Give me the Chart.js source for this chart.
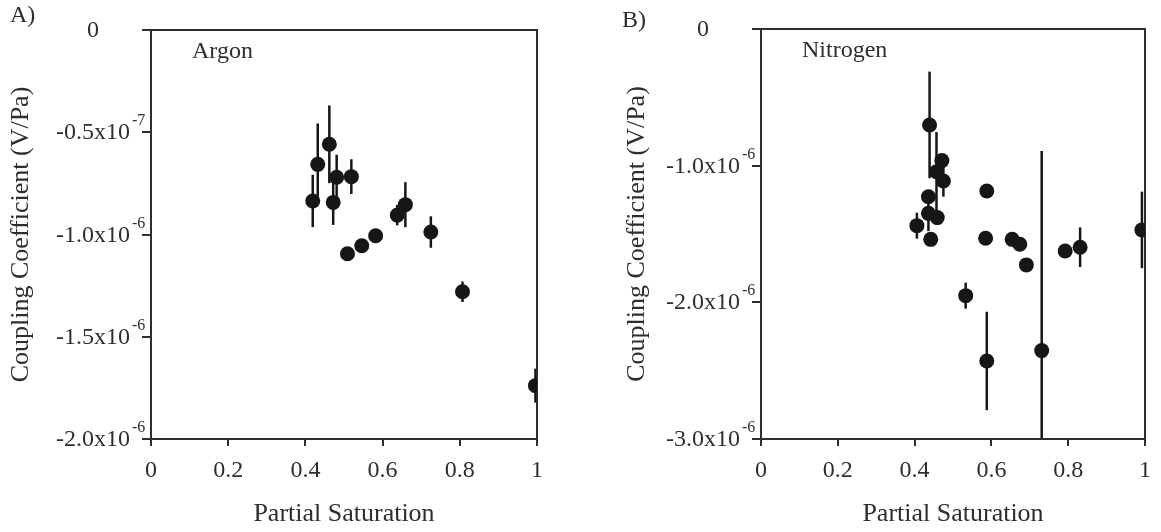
<!DOCTYPE html>
<html>
<head>
<meta charset="utf-8">
<script src="https://cdn.jsdelivr.net/npm/chart.js@4.4.1/dist/chart.umd.min.js"></script>
<style>
  html, body { margin: 0; padding: 0; background: #fff; }
  #wrap { position: relative; width: 1161px; height: 532px; }
  canvas { position: absolute; top: 0; }
  #panelA { left: 0; }
  #panelB { left: 580px; }
</style>
</head>
<body>
<div id="wrap">
  <canvas id="panelA" width="580" height="532"></canvas>
  <canvas id="panelB" width="581" height="532"></canvas>
</div>
<script>
// common x axis
const satTicks = [0, 0.2, 0.4, 0.6, 0.8, 1];
const xTitle = 'Partial Saturation';
const yTitle = 'Coupling Coefficient (V/Pa)';

// panel A - argon
const argonSat  = [0.419, 0.432, 0.462, 0.481, 0.472, 0.519, 0.509, 0.546, 0.582, 0.638, 0.659, 0.725, 0.807, 0.996];
const argonCoef = [-0.836e-6, -0.657e-6, -0.559e-6, -0.720e-6, -0.843e-6, -0.717e-6, -1.094e-6, -1.055e-6, -1.006e-6, -0.905e-6, -0.854e-6, -0.988e-6, -1.280e-6, -1.739e-6];
const argonErr  = [0.128e-6, 0.20e-6, 0.19e-6, 0.11e-6, 0.11e-6, 0.085e-6, 0, 0, 0, 0.05e-6, 0.11e-6, 0.077e-6, 0.05e-6, 0.083e-6];
const argonTicks    = [0, -0.5e-6, -1.0e-6, -1.5e-6, -2.0e-6];
const argonTickText = ['0', '-0.5x10', '-1.0x10', '-1.5x10', '-2.0x10'];
const argonTickExp  = ['', '-7', '-6', '-6', '-6'];

// panel B - nitrogen
const nitroSat  = [0.439, 0.471, 0.457, 0.475, 0.436, 0.436, 0.459, 0.406, 0.442, 0.588, 0.585, 0.654, 0.674, 0.691, 0.533, 0.588, 0.731, 0.792, 0.831, 0.992];
const nitroCoef = [-0.702e-6, -0.963e-6, -1.044e-6, -1.112e-6, -1.227e-6, -1.349e-6, -1.380e-6, -1.439e-6, -1.539e-6, -1.185e-6, -1.531e-6, -1.539e-6, -1.575e-6, -1.726e-6, -1.951e-6, -2.429e-6, -2.353e-6, -1.624e-6, -1.597e-6, -1.470e-6];
const nitroErr  = [0.39e-6, 0, 0.29e-6, 0.115e-6, 0, 0.13e-6, 0, 0.095e-6, 0, 0, 0, 0, 0, 0, 0.095e-6, 0.36e-6, 1.46e-6, 0, 0.145e-6, 0.28e-6];
const nitroTicks    = [0, -1.0e-6, -2.0e-6, -3.0e-6];
const nitroTickText = ['0', '-1.0x10', '-2.0x10', '-3.0x10'];
const nitroTickExp  = ['', '-6', '-6', '-6'];

const ink = '#161616';
const axisInk = '#2e2e2e';
const serif = '"Liberation Serif", "Times New Roman", serif';

let chartInstances = {};

// error bars, frame, y labels with exponent, panel letter and gas name
const panelExtras = {
  id: 'panelExtras',
  beforeDatasetsDraw(chart) {
    const { ctx, chartArea: a, scales: { x, y } } = chart;
    const p = chart.options.plugins.panelExtras;

    ctx.save();
    ctx.beginPath();
    ctx.rect(a.left, a.top, a.right - a.left, a.bottom - a.top);
    ctx.clip();
    ctx.strokeStyle = ink;
    ctx.lineWidth = 2.5;
    p.sat.forEach(function (s, i) {
      const e = p.err[i];
      if (!e) return;
      const px = x.getPixelForValue(s);
      ctx.beginPath();
      ctx.moveTo(px, y.getPixelForValue(p.coef[i] + e));
      ctx.lineTo(px, y.getPixelForValue(p.coef[i] - e));
      ctx.stroke();
    });
    ctx.restore();

    ctx.save();
    ctx.strokeStyle = axisInk;
    ctx.lineWidth = 2;
    ctx.strokeRect(a.left, a.top, a.right - a.left, a.bottom - a.top);
    ctx.restore();
  },
  afterDraw(chart) {
    const { ctx, chartArea: a, scales: { y } } = chart;
    const p = chart.options.plugins.panelExtras;
    ctx.save();
    ctx.fillStyle = axisInk;
    ctx.textBaseline = 'alphabetic';
    p.tickVals.forEach(function (v, i) {
      const py = y.getPixelForValue(v);
      ctx.font = '24px ' + serif;
      if (!p.tickExp[i]) {
        ctx.textAlign = 'center';
        ctx.fillText(p.tickText[i], a.left - 58, py + 7);
        return;
      }
      ctx.textAlign = 'right';
      ctx.fillText(p.tickText[i], a.left - 21, py + 7);
      ctx.font = '16px ' + serif;
      ctx.textAlign = 'left';
      ctx.fillText(p.tickExp[i], a.left - 19, py - 7);
    });

    ctx.font = '24px ' + serif;
    ctx.textAlign = 'left';
    ctx.fillText(p.letter, p.letterX, p.letterY);
    ctx.fillText(p.gas, a.left + 41, a.top + 28);
    ctx.restore();
  }
};

function renderPanel(canvasId, cfg) {
  if (chartInstances[canvasId]) {
    chartInstances[canvasId].destroy();
  }
  const ctx = document.getElementById(canvasId);
  if (!ctx) return;

  chartInstances[canvasId] = new Chart(ctx, {
    type: 'scatter',
    data: {
      datasets: [{
        data: cfg.sat.map(function (s, i) { return { x: s, y: cfg.coef[i] }; }),
        pointRadius: 7.5,
        pointBorderWidth: 0,
        pointBackgroundColor: ink,
        backgroundColor: ink
      }]
    },
    options: {
      responsive: false,
      devicePixelRatio: 1,
      animation: false,
      events: [],
      layout: { padding: cfg.padding },
      plugins: {
        legend: { display: false },
        tooltip: { enabled: false },
        panelExtras: cfg
      },
      scales: {
        x: {
          type: 'linear',
          min: 0,
          max: 1,
          afterBuildTicks: function (scale) {
            scale.ticks = satTicks.map(function (v) { return { value: v }; });
          },
          afterFit: function (scale) { scale.height = 93; },
          border: { display: false },
          grid: { drawOnChartArea: false, drawTicks: true, tickLength: 7, lineWidth: 2, color: axisInk },
          ticks: {
            autoSkip: false,
            maxRotation: 0,
            padding: 10,
            color: axisInk,
            font: { family: serif, size: 24 },
            callback: function (v) { return String(parseFloat(v.toFixed(1))); }
          },
          title: {
            display: true,
            text: xTitle,
            color: axisInk,
            font: { family: serif, size: 26 },
            padding: { top: 0, bottom: 2 }
          }
        },
        y: {
          type: 'linear',
          min: cfg.tickVals[cfg.tickVals.length - 1],
          max: 0,
          afterBuildTicks: function (scale) {
            scale.ticks = cfg.tickVals.map(function (v) { return { value: v }; });
          },
          afterFit: function (scale) { scale.width = cfg.yWidth; },
          border: { display: false },
          grid: { drawOnChartArea: false, drawTicks: true, tickLength: 9, lineWidth: 2, color: axisInk },
          ticks: { display: false },
          title: {
            display: true,
            text: yTitle,
            color: axisInk,
            font: { family: serif, size: 26 },
            padding: { top: cfg.yTitlePad, bottom: 0 }
          }
        }
      }
    },
    plugins: [panelExtras]
  });
}

renderPanel('panelA', {
  sat: argonSat, coef: argonCoef, err: argonErr,
  tickVals: argonTicks, tickText: argonTickText, tickExp: argonTickExp,
  letter: 'A)', letterX: 10, letterY: 22, gas: 'Argon',
  yWidth: 151, yTitlePad: 6,
  padding: { left: 0, top: 30, right: 43, bottom: 0 }
});

renderPanel('panelB', {
  sat: nitroSat, coef: nitroCoef, err: nitroErr,
  tickVals: nitroTicks, tickText: nitroTickText, tickExp: nitroTickExp,
  letter: 'B)', letterX: 42, letterY: 27, gas: 'Nitrogen',
  yWidth: 181, yTitlePad: 42,
  padding: { left: 0, top: 29, right: 13, bottom: 0 }
});
</script>
</body>
</html>
